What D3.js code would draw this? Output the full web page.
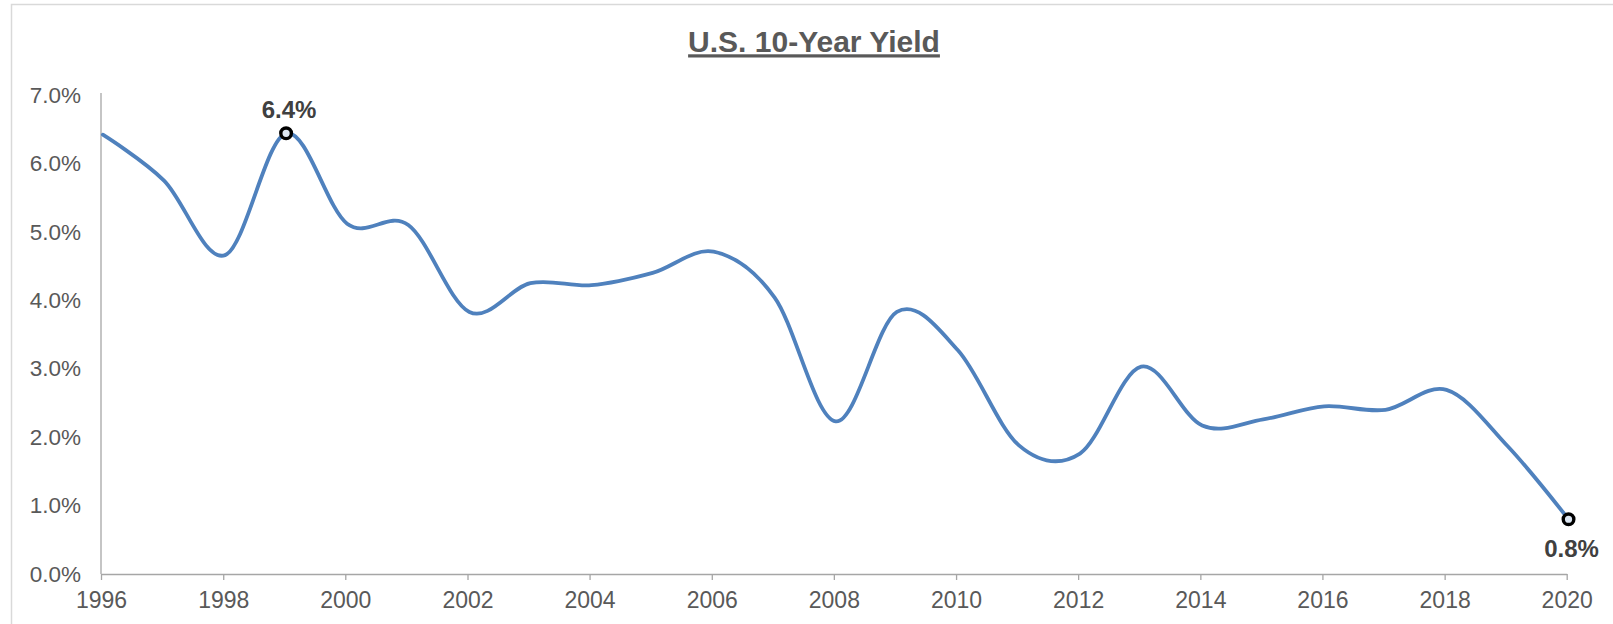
<!DOCTYPE html>
<html>
<head>
<meta charset="utf-8">
<script src="https://cdn.jsdelivr.net/npm/d3@7"></script>
<style>
  html, body { margin: 0; padding: 0; background: #ffffff; }
  svg { display: block; font-family: "Liberation Sans", Arial, sans-serif; }
</style>
</head>
<body>
<svg id="chart" width="1613" height="624"></svg>
<script>
// U.S. 10-year Treasury yield, one observation per year (percent)
const years = [1996, 1997, 1998, 1999, 2000, 2001, 2002, 2003, 2004, 2005, 2006, 2007, 2008,
               2009, 2010, 2011, 2012, 2013, 2014, 2015, 2016, 2017, 2018, 2019, 2020];
const yields = [6.42, 5.75, 4.66, 6.44, 5.12, 5.10, 3.83, 4.25, 4.22, 4.40, 4.71, 4.04, 2.23,
                3.83, 3.27, 1.88, 1.76, 3.03, 2.17, 2.26, 2.45, 2.40, 2.69, 1.87, 0.80];
const obsDay = 12; // observations taken mid-January
const yTicks = [0, 1, 2, 3, 4, 5, 6, 7];
const xTickYears = [1996, 1998, 2000, 2002, 2004, 2006, 2008, 2010, 2012, 2014, 2016, 2018, 2020];
const titleText = "U.S. 10-Year Yield";

const data = years.map((yr, i) => ({ date: new Date(yr, 0, obsDay), value: yields[i] }));

const svg = d3.select("#chart");
const W = 1613, H = 624;
const margin = { left: 101, right: 46.3, top: 95, bottom: 50 };

// chart frame (runs past the right and bottom edges)
svg.append("rect")
  .attr("x", 11.5).attr("y", 4.5)
  .attr("width", W + 20).attr("height", H + 20)
  .attr("fill", "none").attr("stroke", "#d9d9d9").attr("stroke-width", 1.5);

const x = d3.scaleTime()
  .domain([new Date(1996, 0, 1), new Date(2020, 0, 1)])
  .range([margin.left, W - margin.right]);
const y = d3.scaleLinear()
  .domain([0, 7])
  .range([574, margin.top]);

// y axis
const yAxis = svg.append("g")
  .attr("transform", `translate(${margin.left},0)`)
  .call(d3.axisLeft(y).tickValues(yTicks).tickSize(0).tickPadding(20)
        .tickFormat(d => d3.format(".1f")(d) + "%"));
yAxis.select(".domain").attr("stroke", "#a6a6a6").attr("stroke-width", 1.3)
  .attr("d", `M0,${y(0)}V${y(7) - 2}`);
yAxis.selectAll("text").attr("fill", "#595959").style("font-size", "22.5px")
  .style("font-family", "Liberation Sans, Arial, sans-serif");

// x axis
const xAxis = svg.append("g")
  .attr("transform", `translate(0,${y(0)})`)
  .call(d3.axisBottom(x).tickValues(xTickYears.map(v => new Date(v, 0, 1)))
        .tickSize(6).tickPadding(12).tickSizeOuter(0)
        .tickFormat(d3.timeFormat("%Y")));
xAxis.select(".domain").attr("stroke", "#a6a6a6").attr("stroke-width", 1.3);
xAxis.selectAll(".tick line").attr("stroke", "#a6a6a6").attr("stroke-width", 1.3);
xAxis.selectAll("text").attr("fill", "#595959").style("font-size", "23px")
  .style("font-family", "Liberation Sans, Arial, sans-serif");

// smoothed yield line
const line = d3.line()
  .x(d => x(d.date))
  .y(d => y(d.value))
  .curve(d3.curveCardinal.tension(0));
svg.append("path")
  .datum(data)
  .attr("fill", "none")
  .attr("stroke", "#4f81bd")
  .attr("stroke-width", 3.8)
  .attr("stroke-linejoin", "round")
  .attr("stroke-linecap", "round")
  .attr("d", line);

// highlighted points: the peak and the latest value
const peakIdx = d3.maxIndex(data, d => d.value);
const lastIdx = data.length - 1;
const callouts = [
  { d: data[peakIdx], above: true },
  { d: data[lastIdx], above: false }
];
callouts.forEach(c => {
  const cx = x(c.d.date), cy = y(c.d.value);
  svg.append("circle")
    .attr("cx", cx).attr("cy", cy).attr("r", 5.3)
    .attr("fill", "#dce6f2").attr("stroke", "#000000").attr("stroke-width", 3.4);
  svg.append("text")
    .attr("x", cx + 3)
    .attr("y", c.above ? cy - 15.5 : cy + 38)
    .attr("text-anchor", "middle")
    .attr("fill", "#404040")
    .style("font-size", "24px")
    .style("font-weight", "bold")
    .text(d3.format(".1f")(c.d.value) + "%");
});

// title with underline
const title = svg.append("text")
  .attr("x", 814).attr("y", 51.5)
  .attr("text-anchor", "middle")
  .attr("fill", "#595959")
  .style("font-size", "30px")
  .style("font-weight", "bold")
  .text(titleText);
const tw = title.node().getComputedTextLength();
svg.append("rect")
  .attr("x", 814 - tw / 2).attr("y", 54.3)
  .attr("width", tw).attr("height", 3.2)
  .attr("fill", "#595959");
</script>
</body>
</html>
